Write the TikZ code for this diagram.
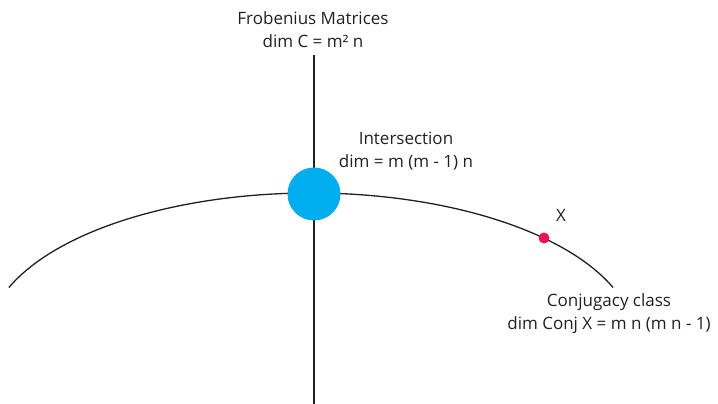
\documentclass[tikz,border=0pt]{standalone}
\usepackage{fontspec}
\setmainfont{Open Sans}
\usepackage{xcolor}
\usetikzlibrary{positioning}
\definecolor{frobblue}{RGB}{0,174,239}
\definecolor{conjred}{RGB}{233,22,82}
\definecolor{ink}{RGB}{35,31,32}

\begin{document}
\begin{tikzpicture}[x=1pt,y=1pt,line width=1.3pt,
  lbl/.style={align=center,text=ink,font=\fontsize{17}{23}\selectfont,inner sep=0pt},
  dot/.style={circle,inner sep=0pt}]
\useasboundingbox (0,0) rectangle (718,404);
% Frobenius matrices axis
\node[lbl] (frob) at (313,374.5) {Frobenius Matrices\\dim C = m² n};
\coordinate (top) at (314,349);
\coordinate (bot) at (314,0);
\draw[ink] (top)--(bot);
% conjugacy class curve
\draw[ink] (8.9,116.5) arc[start angle=158.8,end angle=21.2,x radius=324,y radius=148];
% intersection and the point X
\node[dot,fill=frobblue,minimum size=53pt] (meet) at (314,210) {};
\node[dot,fill=conjred,minimum size=11pt] (ptx) at (544,166) {};
\node[lbl] (xlbl) at (561,189) {X};
\node[lbl] (inter) at (406,252.5) {Intersection\\dim = m (m - 1) n};
\node[lbl] (conj) at (609,90.5) {Conjugacy class\\dim Conj X = m n (m n - 1)};
\end{tikzpicture}
\end{document}
